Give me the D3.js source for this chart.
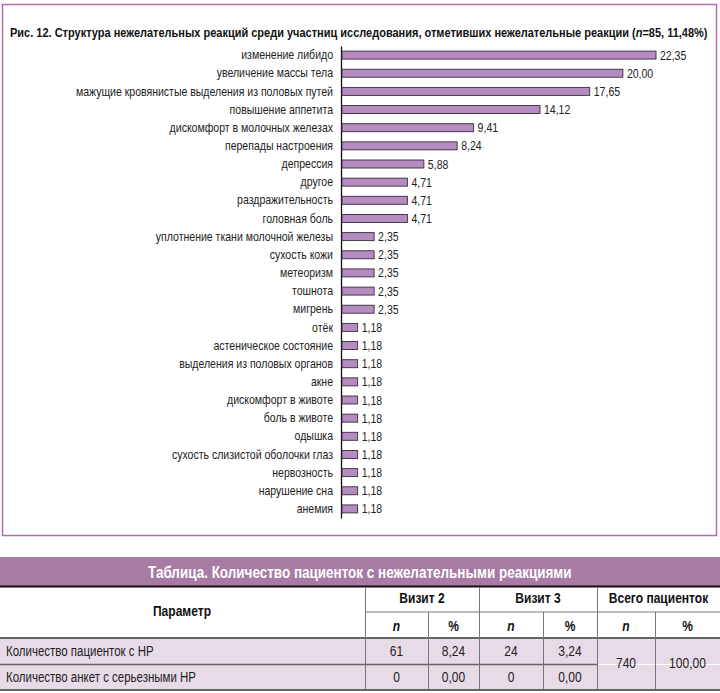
<!DOCTYPE html>
<html lang="ru">
<head>
<meta charset="utf-8">
<title>Структура нежелательных реакций</title>
<script src="https://d3js.org/d3.v7.min.js"></script>
<style>
  body { margin: 0; background: #fff; }
  svg { display: block; font-family: "Liberation Sans", Arial, sans-serif; }
</style>
</head>
<body>
<div id="chart"></div>
<script>
// chart data
const categories = [
  "изменение либидо", "увеличение массы тела", "мажущие кровянистые выделения из половых путей",
  "повышение аппетита", "дискомфорт в молочных железах", "перепады настроения", "депрессия",
  "другое", "раздражительность", "головная боль", "уплотнение ткани молочной железы",
  "сухость кожи", "метеоризм", "тошнота", "мигрень", "отёк", "астеническое состояние",
  "выделения из половых органов", "акне", "дискомфорт в животе", "боль в животе", "одышка",
  "сухость слизистой оболочки глаз", "нервозность", "нарушение сна", "анемия"
];
const values = [
  22.35, 20.00, 17.65, 14.12, 9.41, 8.24, 5.88, 4.71, 4.71, 4.71, 2.35,
  2.35, 2.35, 2.35, 2.35, 1.18, 1.18, 1.18, 1.18, 1.18, 1.18, 1.18,
  1.18, 1.18, 1.18, 1.18
];

// table data
const tableTitle = "Таблица. Количество пациенток с нежелательными реакциями";
const visitHeaders = ["Визит 2", "Визит 3", "Всего пациенток"];
const subHeaders = ["n", "%", "n", "%", "n", "%"];
const rowLabels = ["Количество пациенток с НР", "Количество анкет с серьезными НР"];
const rowValues = [["61", "8,24", "24", "3,24"], ["0", "0,00", "0", "0,00"]];
const totalValues = ["740", "100,00"];

const width = 720, height = 693;
const ru = d3.formatLocale({decimal: ",", thousands: " ", grouping: [3], currency: ["", ""]});
const fmt = ru.format(".2f");

// the original uses a condensed face, so squeeze texts horizontally
function condense(sel, sx) {
  sel.each(function () {
    const t = d3.select(this);
    const tx = +t.attr("x") || 0, ty = +t.attr("y") || 0;
    t.attr("x", 0).attr("y", 0)
      .attr("transform", "translate(" + tx + "," + ty + ") scale(" + sx + ",1)");
  });
}
// squeeze a text so it spans a given width
function fitWidth(sel, w) {
  condense(sel, w / sel.node().getComputedTextLength());
}

const svg = d3.select("#chart").append("svg")
  .attr("width", width).attr("height", height);

// frame around the figure
svg.append("rect")
  .attr("x", 2.5).attr("y", 4.5).attr("width", 714).attr("height", 531)
  .attr("fill", "none").attr("stroke", "#b46aac").attr("stroke-width", 1.5);

// title
const title = svg.append("text")
  .attr("x", 10).attr("y", 37)
  .attr("font-size", 13).attr("font-weight", "bold").attr("fill", "#111");
title.append("tspan").text("Рис. 12. Структура нежелательных реакций среди участниц исследования, отметивших нежелательные реакции (");
title.append("tspan").attr("font-style", "italic").text("n");
title.append("tspan").text("=85, 11,48%)");
fitWidth(title, 698);

// scales
const x = d3.scaleLinear().domain([0, 22.35]).range([341, 656]);
const y = d3.scaleBand().domain(categories).range([46, 518]).paddingInner(0.56).paddingOuter(0.28);

// category axis
const sx = 0.81;
const yAxis = svg.append("g")
  .attr("transform", "translate(" + x(0) + ",0)")
  .call(d3.axisLeft(y).tickSize(0).tickPadding(8 / sx))
  .attr("font-family", null);
yAxis.select(".domain").attr("stroke", "#111").attr("stroke-width", 1.3);
yAxis.selectAll("text")
  .attr("font-size", 13).attr("fill", "#222")
  .attr("transform", "scale(" + sx + ",1)");

// bars
svg.append("g").selectAll("rect")
  .data(values)
  .join("rect")
  .attr("x", x(0) + 1)
  .attr("y", (d, i) => y(categories[i]))
  .attr("width", d => x(d) - x(0) - 1)
  .attr("height", y.bandwidth())
  .attr("fill", "#b48cc0")
  .attr("stroke", "#3a2a3e")
  .attr("stroke-width", 0.9);

// value labels
svg.append("g").selectAll("text")
  .data(values)
  .join("text")
  .attr("x", d => x(d) + 4)
  .attr("y", (d, i) => y(categories[i]) + y.bandwidth() / 2)
  .attr("dy", "0.35em")
  .attr("font-size", 13).attr("fill", "#222")
  .text(d => fmt(d))
  .call(condense, sx);

// ---- table ----
const colX = [0, 365, 428, 479, 543, 597, 655, 720];
const tb = svg.append("g");

tb.append("rect").attr("x", 0).attr("y", 557).attr("width", width).attr("height", 29).attr("fill", "#a87ba4");
tb.append("text")
  .attr("x", 148).attr("y", 578)
  .attr("font-size", 17).attr("font-weight", "bold").attr("fill", "#fff")
  .text(tableTitle)
  .call(fitWidth, 424);
tb.append("line").attr("x1", 0).attr("x2", width).attr("y1", 586.5).attr("y2", 586.5)
  .attr("stroke", "#111").attr("stroke-width", 2);

// data row backgrounds
rowLabels.forEach((r, i) => {
  tb.append("rect").attr("x", 0).attr("y", 639 + i * 26).attr("width", width).attr("height", 25).attr("fill", "#e7dbe8");
});

const tsx = 0.86;
// header texts
tb.append("text").attr("x", 182).attr("y", 616).attr("text-anchor", "middle")
  .attr("font-size", 14).attr("font-weight", "bold").attr("fill", "#111").text("Параметр")
  .call(condense, tsx);
visitHeaders.forEach((h, i) => {
  tb.append("text").attr("x", (colX[1 + i * 2] + colX[3 + i * 2]) / 2).attr("y", 603)
    .attr("text-anchor", "middle").attr("font-size", 14).attr("font-weight", "bold").attr("fill", "#111").text(h)
    .call(condense, tsx);
});
subHeaders.forEach((h, i) => {
  tb.append("text").attr("x", (colX[1 + i] + colX[2 + i]) / 2).attr("y", 631)
    .attr("text-anchor", "middle").attr("font-size", 14).attr("font-weight", "bold")
    .attr("font-style", h === "n" ? "italic" : null).attr("fill", "#111").text(h)
    .call(condense, tsx);
});

// body texts
rowLabels.forEach((r, i) => {
  const yy = 656 + i * 25.5;
  tb.append("text").attr("x", 6).attr("y", yy).attr("font-size", 14).attr("fill", "#222").text(r)
    .call(condense, 0.82);
  rowValues[i].forEach((v, j) => {
    tb.append("text").attr("x", (colX[1 + j] + colX[2 + j]) / 2).attr("y", yy)
      .attr("text-anchor", "middle").attr("font-size", 14).attr("fill", "#222").text(v)
      .call(condense, tsx);
  });
});
totalValues.forEach((v, j) => {
  tb.append("text").attr("x", (colX[5 + j] + colX[6 + j]) / 2).attr("y", 668)
    .attr("text-anchor", "middle").attr("font-size", 14).attr("fill", "#222").text(v)
    .call(condense, tsx);
});

// grid lines
tb.append("line").attr("x1", colX[1]).attr("x2", width).attr("y1", 612).attr("y2", 612).attr("stroke", "#777");
tb.append("line").attr("x1", 0).attr("x2", width).attr("y1", 638).attr("y2", 638).attr("stroke", "#666").attr("stroke-width", 2);
tb.append("line").attr("x1", 0).attr("x2", colX[5]).attr("y1", 664.5).attr("y2", 664.5).attr("stroke", "#666").attr("stroke-width", 1.5);
tb.append("line").attr("x1", 0).attr("x2", width).attr("y1", 690).attr("y2", 690).attr("stroke", "#666").attr("stroke-width", 2);
colX.slice(1, 7).forEach((cx, i) => {
  tb.append("line").attr("x1", cx + 0.5).attr("x2", cx + 0.5)
    .attr("y1", i % 2 === 0 ? 587 : 612).attr("y2", 689)
    .attr("stroke", "#777");
});
</script>
</body>
</html>
